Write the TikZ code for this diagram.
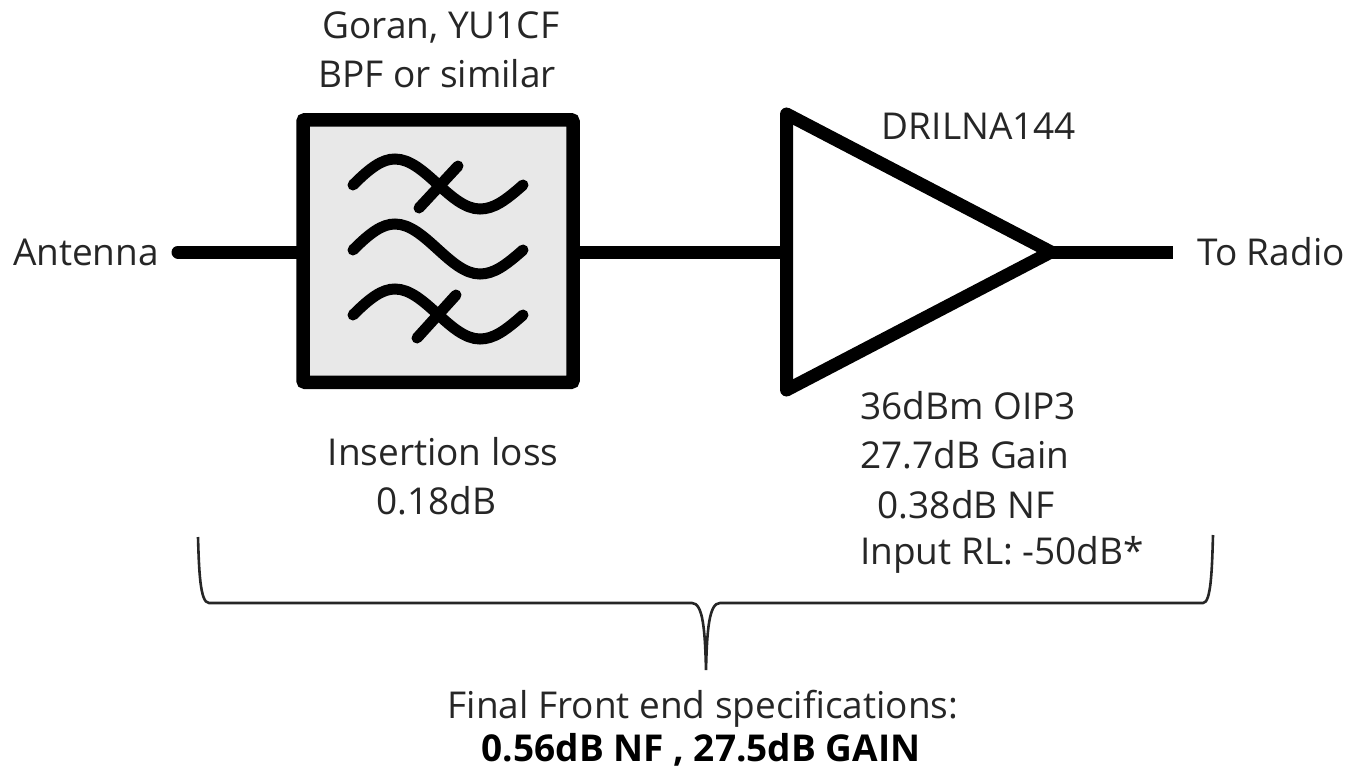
\documentclass[tikz,border=0pt]{standalone}
\usepackage{fontspec}
\setmainfont{Open Sans}
\usetikzlibrary{shapes.geometric}
\tikzset{
  x=1pt,y=-1pt,
  lbl/.style={inner sep=0pt,outer sep=0pt,text=black!85,font=\fontsize{37}{40}\selectfont},
  lblb/.style={lbl,text=black,font=\fontsize{37}{40}\selectfont\bfseries},
  filterbox/.style={draw=black,fill=black!9,line width=13.5pt,rounded corners=2pt,minimum width=270pt,minimum height=262.5pt,inner sep=0pt,outer sep=0pt},
  amp/.style={draw=black,line width=13pt,line join=round,isosceles triangle,isosceles triangle stretches,minimum width=276pt,minimum height=264.5pt,inner sep=0pt,outer sep=0pt,anchor=lower side},
  wire/.style={line width=13pt,draw=black},
  wave/.style={line width=11pt,line cap=round,draw=black},
  bracepath/.style={line width=2.6pt,draw=black!85},
}
\begin{document}
\begin{tikzpicture}
\useasboundingbox (0,0) rectangle (1349,769);
\node[lbl] (ant) at (86,252) {Antenna};
\node[lbl] (radio) at (1271,252) {To Radio};
\node[lbl] (t1) at (441,27) {Goran, YU1CF};
\node[lbl] (t2) at (437,74) {BPF or similar};
\node[lbl] (amptxt) at (979,126) {DRILNA144};
\node[lbl] (il1) at (443,452) {Insertion loss};
\node[lbl] (il2) at (436,501) {0.18dB};
\node[lbl] (a1) at (968,406) {36dBm OIP3};
\node[lbl] (a2) at (965,455) {27.7dB Gain};
\node[lbl] (a3) at (966,505) {0.38dB NF};
\node[lbl] (a4) at (1002,555) {Input RL: -50dB*};
\node[lbl] (f1) at (703,709) {Final Front end specifications:};
\node[lblb] (f2) at (701,750) {0.56dB NF , 27.5dB GAIN};

\node[filterbox] (bpf) at (438,251) {};
\node[amp] (lna) at (786.5,252) {};
\coordinate (antend) at (178,252);
\coordinate (radioend) at (1173,252);
\draw[wire,line cap=round] (antend) -- (bpf.west |- antend);
\draw[wire] (bpf.east |- antend) -- (lna.lower side |- antend);
\draw[wire] (lna.apex) -- (radioend);

\foreach \d in {0,65,130}{
  \draw[wave] (353,185+\d) .. controls (370,168+\d) and (382,159+\d) .. (395,159+\d)
     .. controls (425,159+\d) and (450,209+\d) .. (480,209+\d)
     .. controls (494,209+\d) and (506,200+\d) .. (523,185+\d);
}
\draw[wave] (458,166) -- (419,208);
\draw[wave] (456,295) -- (417,338);

\draw[bracepath] (198,537) .. controls (199,570) and (200,603) .. (209,603)
  -- (692,603) .. controls (703,603) and (705,630) .. (706,670)
  .. controls (707,630) and (709,603) .. (720,603)
  -- (1203,603) .. controls (1211,603) and (1212,570) .. (1213,535);
\end{tikzpicture}
\end{document}
